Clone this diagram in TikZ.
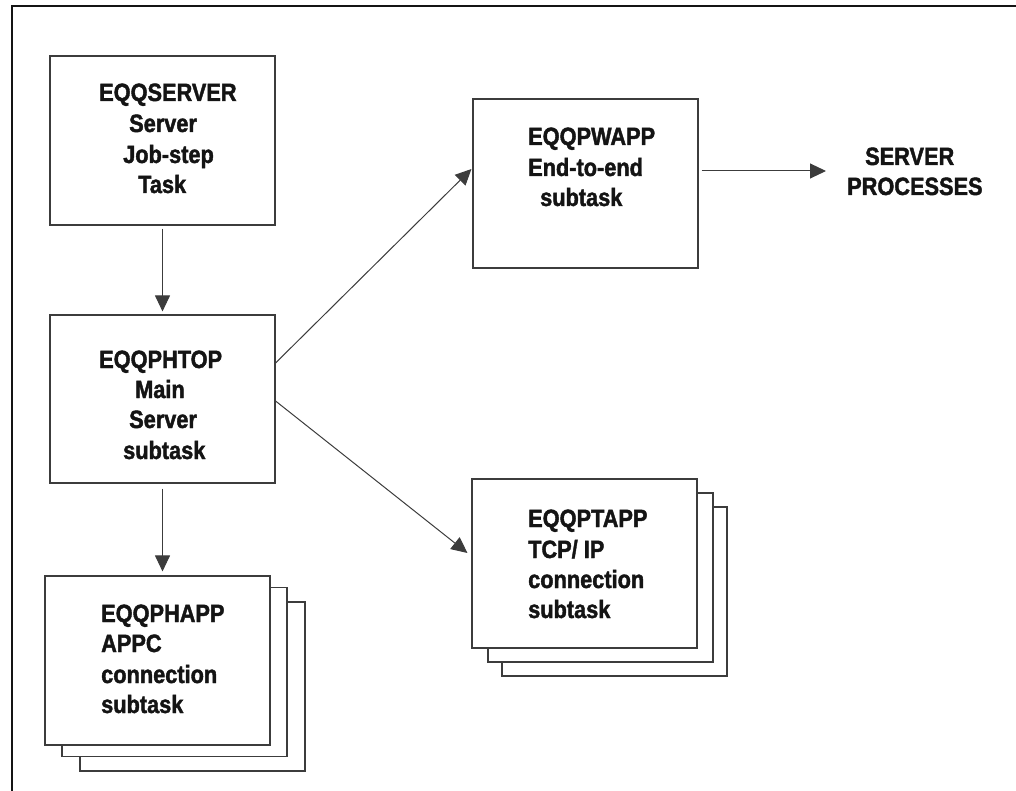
\documentclass[tikz,border=0pt]{standalone}
\usepackage{fontspec}
\setmainfont{Liberation Sans}[FakeStretch=0.87,BoldFeatures={FakeBold=1.6}]
\usetikzlibrary{arrows.meta}
\definecolor{ink}{HTML}{141414}
\definecolor{edge}{HTML}{3C3C3C}
\begin{document}
\begin{tikzpicture}[x=1pt,y=-1pt,
  box/.style={draw=edge,line width=1.1pt,fill=white,inner sep=0pt,
    minimum width=225pt,minimum height=169pt},
  lbl/.style={inner sep=0pt,anchor=base west,text=ink,
    font=\fontsize{25}{30}\selectfont\bfseries},
  conn/.style={draw=edge,line width=1pt,
    -{Triangle[length=16pt,width=15pt]}},
  frame/.style={draw=ink,line width=1.6pt}]
\useasboundingbox (0,0) rectangle (1016,791);

% outer frame (only top and left edges lie inside the page)
\coordinate (fa) at (12,791);
\coordinate (fb) at (12,6);
\coordinate (fc) at (1016,6);
\draw[frame] (fa) -- (fb) -- (fc);

% boxes
\node[box] (srv) at (162.5,140.5) {};
\node[box,minimum height=168pt] (top) at (162.5,399) {};
\node[box] (ha3) at (192.5,686.5) {};
\node[box] (ha2) at (174.5,672) {};
\node[box] (ha) at (157.5,660.5) {};
\node[box] (pw) at (585.5,183.5) {};
\node[box] (pt3) at (614.5,591.5) {};
\node[box] (pt2) at (600.5,577.5) {};
\node[box] (pt) at (584.5,563.5) {};

% box texts
\foreach \x/\y/\t [count=\i] in {99/101/EQQSERVER,129/132/Server,123/163/Job-step,138/193/Task}
  \node[lbl] (s\i) at (\x,\y) {\t};
\foreach \x/\y/\t [count=\i] in {99/368/EQQPHTOP,135/398/Main,129/428/Server,123/459/subtask}
  \node[lbl] (m\i) at (\x,\y) {\t};
\foreach \x/\y/\t [count=\i] in {101/622/EQQPHAPP,101/652/APPC,101/683/connection,101/713/subtask}
  \node[lbl] (a\i) at (\x,\y) {\t};
\foreach \x/\y/\t [count=\i] in {528/145/EQQPWAPP,528/176/End-to-end,540/206/subtask}
  \node[lbl] (w\i) at (\x,\y) {\t};
\foreach \x/\y/\t [count=\i] in {528/527/EQQPTAPP,528/558/{TCP/ IP},528/588/connection,528/618/subtask}
  \node[lbl] (p\i) at (\x,\y) {\t};
\node[lbl] (sp1) at (865,165) {SERVER};
\node[lbl] (sp2) at (847,195) {PROCESSES};

% connectors
\draw[conn,shorten <=3pt,shorten >=3pt] (srv.south) -- (top.north);
\draw[conn,shorten <=5pt,shorten >=4pt] (top.south) -- (top.south |- ha.north);
\draw[conn] ([yshift=36pt]top.east) -- ([yshift=14.5pt,xshift=-1pt]pw.west);
\draw[conn] ([yshift=-2pt]top.east) -- ([yshift=10.5pt,xshift=-4pt]pt.west);
\draw[conn,shorten <=3pt] ([yshift=12.5pt]pw.east) -- ([yshift=12.5pt,xshift=-21pt]sp2.west |- pw.east);
\end{tikzpicture}
\end{document}
